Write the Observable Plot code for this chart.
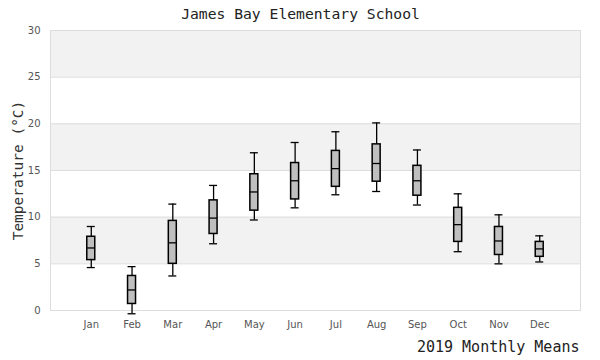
<!DOCTYPE html>
<html>
<head>
<meta charset="utf-8">
<script src="https://cdn.jsdelivr.net/npm/d3@7"></script>
<script src="https://cdn.jsdelivr.net/npm/@observablehq/plot@0.6"></script>
<style>
  body { margin: 0; background: #fff; }
</style>
</head>
<body>
<div id="chart"></div>
<script>
const months = ["Jan","Feb","Mar","Apr","May","Jun","Jul","Aug","Sep","Oct","Nov","Dec"];
const lows    = [4.6, -0.35, 3.7, 7.15, 9.7, 11.0, 12.4, 12.75, 11.3, 6.3, 5.0, 5.2];
const q1s     = [5.4, 0.7, 5.0, 8.2, 10.7, 11.9, 13.25, 13.8, 12.3, 7.35, 5.95, 5.75];
const medians = [6.7, 2.2, 7.25, 9.9, 12.7, 13.9, 15.2, 15.75, 13.9, 9.2, 7.45, 6.6];
const q3s     = [7.9, 3.7, 9.6, 11.8, 14.6, 15.8, 17.1, 17.8, 15.5, 11.0, 8.95, 7.35];
const highs   = [9.0, 4.7, 11.4, 13.4, 16.9, 18.0, 19.15, 20.1, 17.2, 12.5, 10.25, 8.0];

const yTicks = [0, 5, 10, 15, 20, 25, 30];
const bandStarts = [5, 15, 25];

const titleText = "James Bay Elementary School";
const captionText = "2019 Monthly Means";
const yLabel = "Temperature (°C)";

const rows = months.map((m, i) => ({
  month: m, low: lows[i], q1: q1s[i], median: medians[i], q3: q3s[i], high: highs[i]
}));

const mono = "'DejaVu Sans Mono', 'Liberation Mono', monospace";

const chart = Plot.plot({
  width: 600,
  height: 360,
  marginLeft: 50,
  marginRight: 20,
  marginTop: 30,
  marginBottom: 50,
  style: {fontFamily: "'DejaVu Sans', sans-serif", fontSize: "10px", color: "#555", background: "#fff"},
  x: {type: "band", domain: months, paddingInner: 0.804, paddingOuter: 0.902, round: false,
      tickSize: 0, tickPadding: 10, label: null},
  y: {domain: [0, 30], ticks: yTicks, tickSize: 0, tickPadding: 10, label: null},
  marks: [
    Plot.rect(bandStarts, {y1: d => d, y2: d => d + 5, fill: "#f2f2f2"}),
    Plot.ruleY(yTicks, {stroke: "#dddddd", strokeWidth: 1}),
    Plot.frame({stroke: "#dddddd"}),
    Plot.ruleX(rows, {x: "month", y1: "low", y2: "high", stroke: "black", strokeWidth: 1.3}),
    Plot.barY(rows, {x: "month", y1: "q1", y2: "q3", fill: "#bfbfbf", stroke: "black", strokeWidth: 1.5}),
    Plot.tickY(rows, {x: "month", y: "median", stroke: "black", strokeWidth: 1.3}),
    Plot.tickY(rows, {x: "month", y: "low", stroke: "black", strokeWidth: 1.3}),
    Plot.tickY(rows, {x: "month", y: "high", stroke: "black", strokeWidth: 1.3}),
    Plot.text([titleText], {frameAnchor: "top", lineAnchor: "middle", textAnchor: "middle", dx: -15, dy: -16,
      fontFamily: mono, fontSize: 14.7, fill: "#222"}),
    Plot.text([captionText], {frameAnchor: "bottom-right", lineAnchor: "middle", textAnchor: "end", dx: -1, dy: 37,
      fontFamily: mono, fontSize: 15, fill: "#222"}),
    Plot.text([yLabel], {frameAnchor: "left", lineAnchor: "middle", textAnchor: "middle", rotate: -90, dx: -32,
      fontFamily: mono, fontSize: 14.5, fill: "#333"})
  ]
});

document.getElementById("chart").appendChild(chart);
</script>
</body>
</html>
